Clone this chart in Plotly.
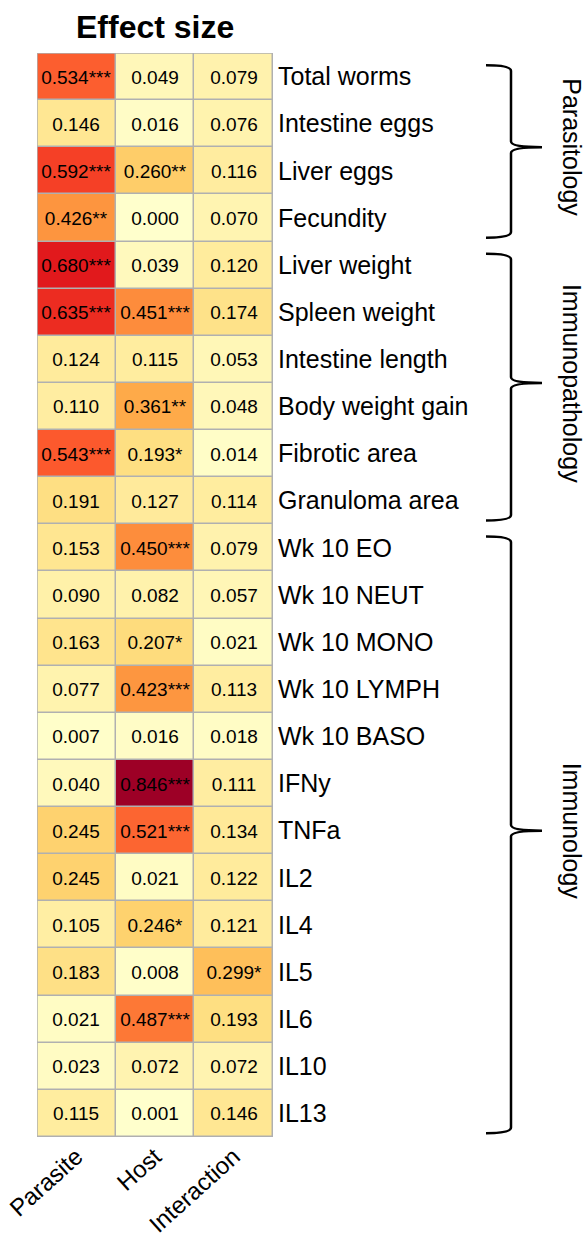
import plotly.graph_objects as go

rows = ["Total worms", "Intestine eggs", "Liver eggs", "Fecundity", "Liver weight",
        "Spleen weight", "Intestine length", "Body weight gain", "Fibrotic area",
        "Granuloma area", "Wk 10 EO", "Wk 10 NEUT", "Wk 10 MONO", "Wk 10 LYMPH",
        "Wk 10 BASO", "IFNy", "TNFa", "IL2", "IL4", "IL5", "IL6", "IL10", "IL13"]
cols = ["Parasite", "Host", "Interaction"]

parasite = [0.534, 0.146, 0.592, 0.426, 0.680, 0.635, 0.124, 0.110, 0.543, 0.191, 0.153, 0.090,
            0.163, 0.077, 0.007, 0.040, 0.245, 0.245, 0.105, 0.183, 0.021, 0.023, 0.115]
host = [0.049, 0.016, 0.260, 0.000, 0.039, 0.451, 0.115, 0.361, 0.193, 0.127, 0.450, 0.082,
        0.207, 0.423, 0.016, 0.846, 0.521, 0.021, 0.246, 0.008, 0.487, 0.072, 0.001]
interaction = [0.079, 0.076, 0.116, 0.070, 0.120, 0.174, 0.053, 0.048, 0.014, 0.114, 0.079, 0.057,
               0.021, 0.113, 0.018, 0.111, 0.134, 0.122, 0.121, 0.299, 0.193, 0.072, 0.146]

parasite_sig = ["***", "", "***", "**", "***", "***", "", "", "***", "", "", "",
                "", "", "", "", "", "", "", "", "", "", ""]
host_sig = ["", "", "**", "", "", "***", "", "**", "*", "", "***", "",
            "*", "***", "", "***", "***", "", "*", "", "***", "", ""]
interaction_sig = ["", "", "", "", "", "", "", "", "", "", "", "",
                   "", "", "", "", "", "", "", "*", "", "", ""]

groups = [("Parasitology", 0, 3), ("Immunopathology", 4, 9), ("Immunology", 10, 22)]

FONT = "Liberation Sans, Arial"
n = len(rows)
z = [[parasite[i], host[i], interaction[i]] for i in range(n)]
text = [[f"{parasite[i]:.3f}{parasite_sig[i]}", f"{host[i]:.3f}{host_sig[i]}",
         f"{interaction[i]:.3f}{interaction_sig[i]}"] for i in range(n)]

fig = go.Figure(go.Heatmap(
    z=z, x=list(range(3)), y=list(range(n)), text=text, texttemplate="%{text}",
    textfont=dict(size=19, color="black", family=FONT),
    colorscale="YlOrRd", zmin=0, zmax=0.9, showscale=False, xgap=1.5, ygap=1.5,
))

L, R, T, B = 37, 273, 53, 1137
W, H = 588, 1236

shapes = [dict(type="rect", xref="x", yref="y", x0=-0.5, x1=2.5, y0=-0.5, y1=n - 0.5,
               line=dict(color="#b0b0b0", width=1.5))]
annotations = [dict(text="<b>Effect size</b>", x=1, y=-0.5, xref="x", yref="y",
                    yanchor="bottom", yshift=6, showarrow=False,
                    font=dict(size=32, family=FONT, color="black"))]

def px(xpix):
    return (xpix - L) / (R - L)

xa, xb, xc = px(486), px(511), px(542)
for name, r0, r1 in groups:
    top = r0 - 0.5 + 0.26
    bot = r1 + 0.5 - 0.08
    mid = (r0 + r1) / 2.0
    c = 0.12
    path = (f"M {xa},{top} Q {xb},{top} {xb},{top + c} L {xb},{mid - c} "
            f"Q {xb},{mid} {xc},{mid} Q {xb},{mid} {xb},{mid + c} "
            f"L {xb},{bot - c} Q {xb},{bot} {xa},{bot}")
    shapes.append(dict(type="path", xref="x domain", yref="y", path=path,
                       line=dict(color="black", width=2.5)))
    annotations.append(dict(text=name, x=px(572), y=mid, xref="x domain", yref="y",
                            xanchor="center", yanchor="middle",
                            showarrow=False, textangle=90,
                            font=dict(size=25, family=FONT, color="black")))

fig.update_layout(
    width=W, height=H, margin=dict(l=L, r=W - R, t=T, b=H - B, autoexpand=False),
    paper_bgcolor="white", plot_bgcolor="#b0b0b0",
    shapes=shapes, annotations=annotations,
    xaxis=dict(tickmode="array", tickvals=list(range(3)), ticktext=cols, tickangle=-42,
               showgrid=False, zeroline=False, ticks="", range=[-0.5, 2.5], automargin=False,
               tickfont=dict(size=24, family=FONT, color="black")),
    yaxis=dict(tickmode="array", tickvals=list(range(n)), ticktext=rows, side="right",
               autorange=False, range=[n - 0.5, -0.5], showgrid=False, zeroline=False, ticks="",
               ticklabelstandoff=4, automargin=False,
               tickfont=dict(size=25, family=FONT, color="black")),
)

fig.write_html("out.html")
